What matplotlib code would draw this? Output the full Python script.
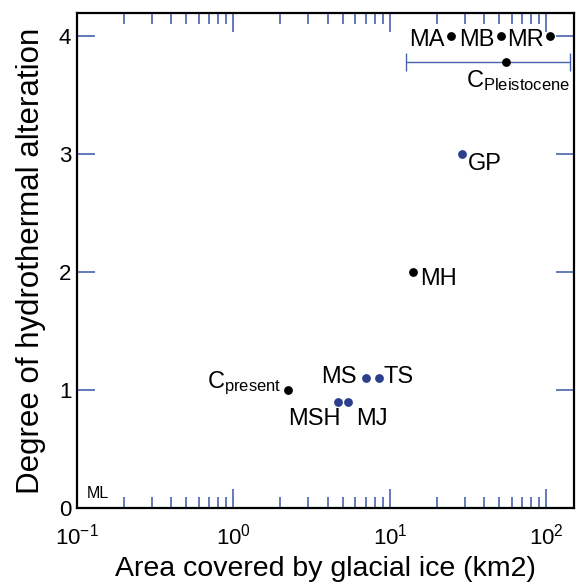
import numpy as np
import matplotlib.pyplot as plt
from matplotlib.ticker import FixedLocator, FixedFormatter, LogLocator, NullFormatter

plt.rcParams['font.family'] = ['Liberation Sans', 'DejaVu Sans']
plt.rcParams['mathtext.fontset'] = 'custom'
plt.rcParams['mathtext.rm'] = 'Liberation Sans'
plt.rcParams['mathtext.it'] = 'Liberation Sans'

# data
names = ['MA', 'MB', 'MR', 'CPl', 'GP', 'MH', 'Cpr', 'MS', 'TS', 'MSH', 'MJ']
area = [24.5, 51, 106, 55, 28.8, 14.0, 2.24, 7.0, 8.5, 4.66, 5.4]
alteration = [4.0, 4.0, 4.0, 3.78, 3.0, 2.0, 1.0, 1.1, 1.1, 0.9, 0.9]
dot_colour = ['k', 'k', 'k', 'k', 'b', 'k', 'k', 'b', 'b', 'b', 'b']
pleist_range = [12.6, 142]   # min / max of the Pleistocene ice area

labels = ['MA', 'MB', 'MR', r'C$_{\mathregular{Pleistocene}}$', 'GP', 'MH',
          r'C$_{\mathregular{present}}$', 'MS', 'TS', 'MSH', 'MJ']
# label offsets in pixels (dx, dy) and horizontal alignment
offsets = [(-6, -10, 'right'), (-6, -10, 'right'), (-6, -10, 'right'),
           (-40, -25, 'left'), (6, -16, 'left'), (7, -13, 'left'),
           (-7, 2, 'right'), (-9, -5, 'right'), (5, -5, 'left'),
           (3, -23, 'right'), (8, -23, 'left')]

navy = '#2b3f8e'
tickblue = '#4863ae'

fig = plt.figure(figsize=(5.78, 5.84), dpi=100)
ax = fig.add_axes([0.133, 0.130, 0.860, 0.848])

i_pl = names.index('CPl')
ax.errorbar([area[i_pl]], [alteration[i_pl]],
            xerr=[[area[i_pl] - pleist_range[0]], [pleist_range[1] - area[i_pl]]],
            fmt='none', ecolor=tickblue, elinewidth=1.0, capsize=6.5, capthick=1.0)

for x, y, c in zip(area, alteration, dot_colour):
    ax.scatter(x, y, s=40, color='k' if c == 'k' else navy, zorder=3, linewidths=0)

for x, y, lab, (dx, dy, ha) in zip(area, alteration, labels, offsets):
    ax.annotate(lab, (x, y), xytext=(dx, dy), textcoords='offset pixels',
                ha=ha, va='baseline', fontsize=17)

ax.text(0.02, 0.02, 'ML', transform=ax.transAxes, fontsize=11.5, va='baseline')

ax.set_xscale('log')
ax.set_xlim(0.1, 150)
ax.set_ylim(0, 4.2)

ax.xaxis.set_major_locator(FixedLocator([0.1, 1, 10, 100]))
ax.xaxis.set_major_formatter(FixedFormatter([r'$\mathregular{10^{-1}}$', r'$\mathregular{10^{0}}$',
                                             r'$\mathregular{10^{1}}$', r'$\mathregular{10^{2}}$']))
ax.xaxis.set_minor_locator(LogLocator(base=10, subs=np.arange(2, 10)))
ax.xaxis.set_minor_formatter(NullFormatter())
ax.set_yticks([0, 1, 2, 3, 4])

ax.tick_params(axis='x', which='major', direction='in', length=14, width=1.2,
               color=tickblue, top=True, labelsize=16, pad=11)
ax.tick_params(axis='x', which='minor', direction='in', length=8, width=1.2,
               color=tickblue, top=True)
ax.tick_params(axis='y', which='major', direction='in', length=13, width=1.2,
               color=tickblue, right=True, labelsize=16, pad=4)

for sp in ax.spines.values():
    sp.set_linewidth(1.6)

ax.set_xlabel('Area covered by glacial ice (km2)', fontsize=20.5, labelpad=5)
ax.set_ylabel('Degree of hydrothermal alteration', fontsize=22.5, labelpad=9)

fig.savefig('out.png', dpi=100)
